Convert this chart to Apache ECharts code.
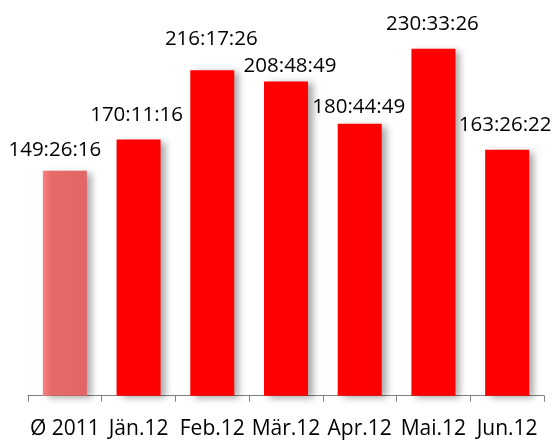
<!DOCTYPE html>
<html>
<head>
<meta charset="utf-8">
<script src="https://cdn.jsdelivr.net/npm/echarts@6/dist/echarts.min.js"></script>
<style>
html,body{margin:0;padding:0;background:#fff;}
#main{width:558px;height:441px;}
</style>
</head>
<body>
<div id="main"></div>
<script>
// Monate und Dauer (Stunden:Minuten:Sekunden)
var categories = ['Ø 2011', 'Jän.12', 'Feb.12', 'Mär.12', 'Apr.12', 'Mai.12', 'Jun.12'];
var durations = ['149:26:16', '170:11:16', '216:17:26', '208:48:49', '180:44:49', '230:33:26', '163:26:22'];
var yTicks = [0, 250];

function toHours(s){
    var p = s.split(':');
    return (+p[0]) + (+p[1]) / 60 + (+p[2]) / 3600;
}

// Excel schiebt ein paar Beschriftungen zur Seite
var labelOffsets = [[-10, 4], [-2, 0], [-1, -7], [4, 9], [-1, 8], [-1, 0], [-2, 0]];

var myChart = echarts.init(document.getElementById('main'));

var barData = durations.map(function (d, i) {
    var item = {
        value: toHours(d),
        label: { offset: labelOffsets[i] }
    };
    if (i == 0) {
        item.itemStyle = {
            color: new echarts.graphic.LinearGradient(0, 0, 1, 0, [
                { offset: 0, color: '#fb8282' },
                { offset: 0.18, color: '#e66b6b' },
                { offset: 1, color: '#e26565' }
            ])
        };
    }
    return item;
});

var option = {
    animation: false,
    grid: {
        left: 28,
        right: 14,
        top: 19.5,
        bottom: 45.3
    },
    xAxis: {
        type: 'category',
        data: categories,
        axisLine: { show: true, lineStyle: { color: '#7f7f7f', width: 1 } },
        axisTick: { show: true, alignWithLabel: false, length: 6, lineStyle: { color: '#7f7f7f', width: 1 } },
        axisLabel: {
            color: '#000',
            fontFamily: 'Open Sans',
            fontSize: 21,
            margin: 23,
            interval: 0
        }
    },
    yAxis: {
        type: 'value',
        min: yTicks[0],
        max: yTicks[1],
        show: false
    },
    series: [{
        type: 'bar',
        barWidth: 44,
        data: barData,
        itemStyle: {
            color: '#ff0000',
            shadowColor: 'rgba(0,0,0,0.35)',
            shadowBlur: 7,
            shadowOffsetX: 5,
            shadowOffsetY: 2
        },
        label: {
            show: true,
            position: 'top',
            distance: 14,
            color: '#000',
            fontFamily: 'Open Sans',
            fontSize: 20.5,
            formatter: function (p) { return durations[p.dataIndex]; }
        }
    }]
};
myChart.setOption(option);
</script>
</body>
</html>
